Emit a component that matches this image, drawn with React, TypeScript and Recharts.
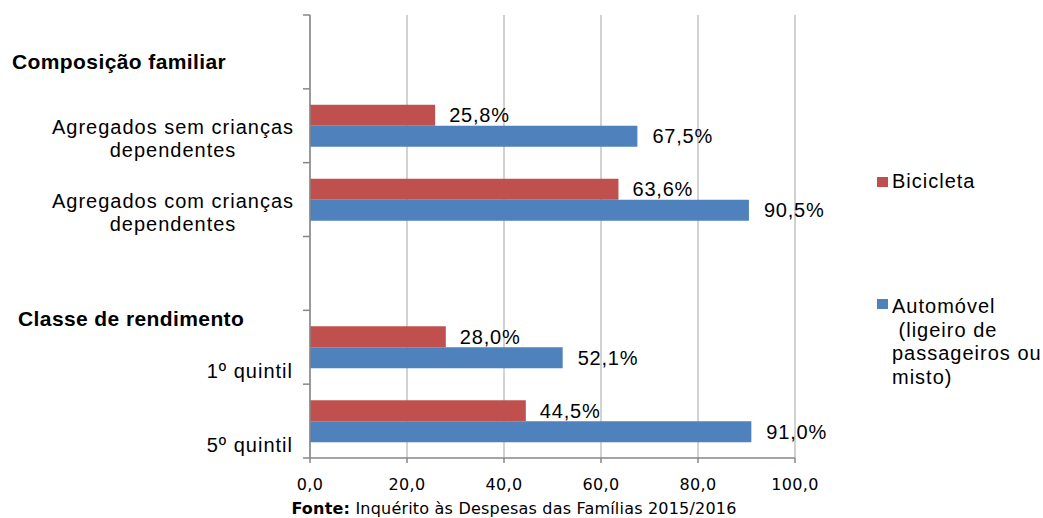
import React from 'react'
import {
    Bar,
    BarChart,
    CartesianGrid,
    LabelList,
    XAxis,
    YAxis,
} from 'recharts'

// categories top -> bottom (the empty one is the gap between the two groups)
const CATEGORIES = [
    'Composição familiar',
    'Agregados sem crianças dependentes',
    'Agregados com crianças dependentes',
    ' ',
    '1º quintil',
    '5º quintil',
]
const GROUP_HEADERS = ['Composição familiar', '', '', '', 'Classe de rendimento', '']
const CATEGORY_LINES = [
    [],
    ['Agregados sem crianças', 'dependentes'],
    ['Agregados com crianças', 'dependentes'],
    [],
    ['1º quintil'],
    ['5º quintil'],
]

const BICICLETA = [null, 25.8, 63.6, null, 28.0, 44.5]
const AUTOMOVEL = [null, 67.5, 90.5, null, 52.1, 91.0]

const SERIES_NAMES = ['Bicicleta', 'Automóvel (ligeiro de passageiros ou misto)']
const LEGEND_LINES = [['Bicicleta'], ['Automóvel', ' (ligeiro de', 'passageiros ou', 'misto)']]

const X_TICKS = [0, 20, 40, 60, 80, 100]
const SOURCE_LABEL = 'Fonte:'
const SOURCE_TEXT = ' Inquérito às Despesas das Famílias 2015/2016'

const COLORS = ['#C0504D', '#4F81BD']
const AXIS_COLOR = '#878787'
const GRID_COLOR = '#C3C3C3'

const WIDTH = 1043
const HEIGHT = 518
const MARGIN = { top: 15, right: 248, bottom: 20, left: 0 }
const Y_AXIS_WIDTH = 310
const X_AXIS_HEIGHT = 40
const TICK_MARGIN = 17
const BAND =
    (HEIGHT - MARGIN.top - MARGIN.bottom - X_AXIS_HEIGHT) / CATEGORIES.length

const data = CATEGORIES.map((name, i) => ({
    name,
    bici: BICICLETA[i],
    auto: AUTOMOVEL[i],
}))

const fmtPct = (v: any) =>
    v == null ? '' : `${Number(v).toFixed(1).replace('.', ',')}%`

const fmtTick = (v: number) => v.toFixed(1).replace('.', ',')

// header positions (bold group titles) relative to band centre
const HEADER_POS: Record<number, { x: number; dy: number }> = {
    0: { x: 12, dy: 17.5 },
    4: { x: 18, dy: -21 },
}

function CategoryTick(props: any) {
    const { x, y, payload } = props
    const i = CATEGORIES.indexOf(payload.value)
    const axisX = x + TICK_MARGIN
    const half = BAND / 2
    const lines = CATEGORY_LINES[i] || []
    const header = GROUP_HEADERS[i]
    const multi = lines.length > 1
    return (
        <g>
            <line x1={axisX - 7} x2={axisX} y1={y - half} y2={y - half} stroke={AXIS_COLOR} strokeWidth={1.5} />
            {i === CATEGORIES.length - 1 && (
                <line x1={axisX - 7} x2={axisX} y1={y + half} y2={y + half} stroke={AXIS_COLOR} strokeWidth={1.5} />
            )}
            {header && (
                <text
                    x={HEADER_POS[i].x}
                    y={y + HEADER_POS[i].dy}
                    fontSize={21}
                    fontWeight={700}
                    letterSpacing={0.4}
                    fill="#000"
                >
                    {header}
                </text>
            )}
            {lines.map((line, k) => (
                <text
                    key={k}
                    x={multi ? x - 120 : x}
                    y={y + 31 - (lines.length - 1 - k) * 22.5}
                    textAnchor={multi ? 'middle' : 'end'}
                    fontSize={20}
                    letterSpacing={1}
                    fill="#000"
                >
                    {line}
                </text>
            ))}
        </g>
    )
}

export default function App() {
    return (
        <div style={{ position: 'absolute', left: 0, top: 0, width: WIDTH, height: HEIGHT, background: '#fff' }}>
            <BarChart
                width={WIDTH}
                height={HEIGHT}
                data={data}
                layout="vertical"
                margin={MARGIN}
                barSize={21}
                barGap={0}
                style={{ fontFamily: '"Liberation Sans", Arial, sans-serif' }}
            >
                <CartesianGrid
                    horizontal={false}
                    stroke={GRID_COLOR}
                    strokeWidth={1.5}
                />
                <XAxis
                    type="number"
                    domain={[0, 100]}
                    ticks={X_TICKS}
                    tickFormatter={fmtTick}
                    height={X_AXIS_HEIGHT}
                    axisLine={{ stroke: AXIS_COLOR, strokeWidth: 1.5 }}
                    tickLine={{ stroke: AXIS_COLOR, strokeWidth: 1.5 }}
                    tickSize={5}
                    tickMargin={16}
                    tick={{
                        fontSize: 16,
                        fill: '#000',
                        fontFamily: '"DejaVu Sans", sans-serif',
                        letterSpacing: 0.3,
                    }}
                />
                <YAxis
                    type="category"
                    dataKey="name"
                    width={Y_AXIS_WIDTH}
                    interval={0}
                    axisLine={{ stroke: AXIS_COLOR, strokeWidth: 1.5 }}
                    tickLine={false}
                    tickSize={0}
                    tickMargin={TICK_MARGIN}
                    tick={<CategoryTick />}
                />
                <Bar dataKey="bici" name={SERIES_NAMES[0]} fill={COLORS[0]} isAnimationActive={false}>
                    <LabelList
                        dataKey="bici"
                        position="right"
                        offset={14}
                        formatter={fmtPct}
                        fill="#000"
                        fontSize={20}
                        style={{ letterSpacing: '0.8px' }}
                    />
                </Bar>
                <Bar dataKey="auto" name={SERIES_NAMES[1]} fill={COLORS[1]} isAnimationActive={false}>
                    <LabelList
                        dataKey="auto"
                        position="right"
                        offset={15}
                        formatter={fmtPct}
                        fill="#000"
                        fontSize={20}
                        style={{ letterSpacing: '0.8px' }}
                    />
                </Bar>
            </BarChart>
            <svg
                width={WIDTH}
                height={HEIGHT}
                style={{ position: 'absolute', left: 0, top: 0, pointerEvents: 'none' }}
            >
                {/* legend */}
                <g fontFamily='"Liberation Sans", Arial, sans-serif' fontSize={20} letterSpacing={1} fill="#000">
                    <rect x={877} y={177} width={11} height={10} fill={COLORS[0]} />
                    <text x={892} y={188}>{LEGEND_LINES[0][0]}</text>
                    <rect x={877} y={299} width={11} height={10} fill={COLORS[1]} />
                    {LEGEND_LINES[1].map((l, k) => (
                        <text key={k} x={892} y={313 + k * 23.5} style={{ whiteSpace: 'pre' }}>
                            {l}
                        </text>
                    ))}
                </g>
                {/* source */}
                <text
                    x={514}
                    y={514}
                    textAnchor="middle"
                    fontFamily='"DejaVu Sans", sans-serif'
                    fontSize={16}
                    letterSpacing={0.2}
                    fill="#000"
                    style={{ whiteSpace: 'pre' }}
                >
                    <tspan fontWeight={700}>{SOURCE_LABEL}</tspan>
                    <tspan>{SOURCE_TEXT}</tspan>
                </text>
            </svg>
        </div>
    )
}
